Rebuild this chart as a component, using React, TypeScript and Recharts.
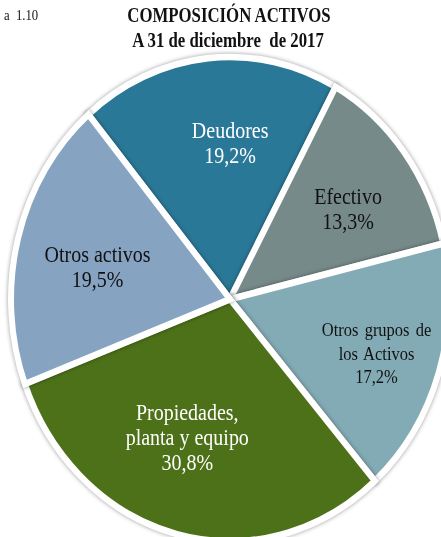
import React from 'react';
import { PieChart, Pie, Cell } from 'recharts';

const categories: string[][] = [
  ['Deudores'],
  ['Efectivo'],
  ['Otros grupos de', 'los Activos'],
  ['Propiedades,', 'planta y equipo'],
  ['Otros activos'],
];
const values: number[] = [19.2, 13.3, 17.2, 30.8, 19.5];
const colors: string[] = ['#2A7897', '#778A8A', '#83ABB5', '#4D7119', '#86A4C2'];
const textColors: string[] = ['#ffffff', '#111111', '#111111', '#ffffff', '#111111'];

const data = values.map((v, i) => ({ name: categories[i].join(' '), value: v }));

// label layout (radius factor, clockwise angle nudge in degrees, font size, line step)
const labelRadius = [0.64, 0.655, 0.72, 0.625, 0.625];
const labelNudge = [5.8, 3.8, 1.9, 4.4, -3.4];
const labelFont = [20, 20, 16.5, 20, 20];
const labelStep = [21.5, 21.5, 20, 21.5, 21.5];
const LABEL_SHIFT = -3.3;

const STRETCH = 1.106;
const FONT = '"Liberation Serif", "Times New Roman", serif';
const RAD = Math.PI / 180;

const fmt = (v: number) => v.toFixed(1).replace('.', ',') + '%';

const renderLabel = (props: any) => {
  const { cx, cy, midAngle, outerRadius, index } = props;
  const a = (midAngle - labelNudge[index]) * RAD;
  const r = (outerRadius - 3) * labelRadius[index];
  const x = cx + r * Math.cos(a);
  const y = cy - r * Math.sin(a) + LABEL_SHIFT;
  const lines = [...categories[index], fmt(values[index])];
  const step = labelStep[index];
  const start = -((lines.length - 1) * step) / 2;
  return (
    <g key={`lbl-${index}`} transform={`translate(${x} ${y}) scale(1 1.05)`}>
      {lines.map((ln, j) => (
        <text
          key={j}
          x={0}
          y={start + j * step}
          textAnchor="middle"
          dominantBaseline="central"
          fill={textColors[index]}
          fontFamily={FONT}
          fontSize={labelFont[index]}
          style={{ wordSpacing: index === 2 ? '2px' : undefined }}
        >
          {ln}
        </text>
      ))}
    </g>
  );
};

export default function App() {
  return (
    <div style={{ position: 'absolute', left: 0, top: 0, width: 441, height: 537, background: '#fff', overflow: 'hidden' }}>
      <div
        style={{
          position: 'absolute',
          left: 0,
          top: 0,
          width: 441,
          height: 486,
          transform: `scaleY(${STRETCH})`,
          transformOrigin: '0 0',
        }}
      >
        <PieChart width={441} height={486}>
          <Pie
            data={data}
            dataKey="value"
            nameKey="name"
            cx={225}
            cy={265.5}
            outerRadius={219}
            startAngle={130.3}
            endAngle={-229.7}
            stroke="#ffffff"
            strokeWidth={6}
            label={renderLabel}
            labelLine={false}
            isAnimationActive={false}
          >
            {data.map((d, i) => (
              <Cell key={i} fill={colors[i]} style={{ filter: 'drop-shadow(0px 0px 2px rgba(0,0,0,0.4))' }} />
            ))}
          </Pie>
        </PieChart>
      </div>
      <div
        style={{
          position: 'absolute',
          left: 4,
          top: 5,
          height: 20,
          lineHeight: '20px',
          fontFamily: FONT,
          fontSize: 12.7,
          color: '#111',
          transform: 'scaleY(1.2)',
          whiteSpace: 'nowrap',
        }}
      >
        a&nbsp;&nbsp;1.10
      </div>
      <div
        style={{
          position: 'absolute',
          left: 29,
          width: 400,
          top: 4.5,
          height: 20,
          lineHeight: '20px',
          textAlign: 'center',
          fontFamily: FONT,
          fontWeight: 'bold',
          fontSize: 16.8,
          color: '#111',
          transform: 'scaleY(1.3)',
          whiteSpace: 'nowrap',
        }}
      >
        COMPOSICIÓN ACTIVOS
      </div>
      <div
        style={{
          position: 'absolute',
          left: 28,
          width: 400,
          top: 29.5,
          height: 20,
          lineHeight: '20px',
          textAlign: 'center',
          fontFamily: FONT,
          fontWeight: 'bold',
          fontSize: 16.8,
          color: '#111',
          transform: 'scaleY(1.3)',
          whiteSpace: 'pre',
        }}
      >
        {'A 31 de diciembre  de 2017'}
      </div>
    </div>
  );
}
